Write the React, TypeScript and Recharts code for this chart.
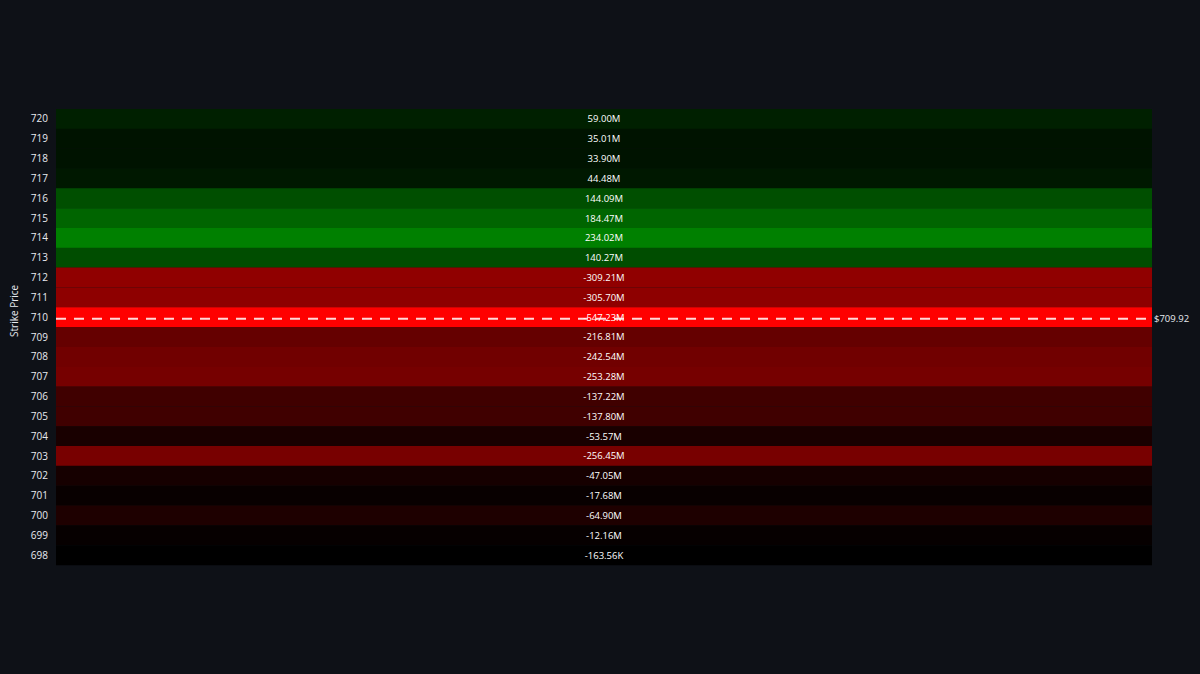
import React from 'react';
import { BarChart, Bar, Cell, XAxis, YAxis, ReferenceLine, LabelList } from 'recharts';

const strikes = [720, 719, 718, 717, 716, 715, 714, 713, 712, 711, 710, 709, 708, 707, 706, 705, 704, 703, 702, 701, 700, 699, 698];
const exposure = [
  59.0e6, 35.01e6, 33.9e6, 44.48e6, 144.09e6, 184.47e6, 234.02e6, 140.27e6, -309.21e6, -305.7e6, -547.23e6,
  -216.81e6, -242.54e6, -253.28e6, -137.22e6, -137.8e6, -53.57e6, -256.45e6, -47.05e6, -17.68e6, -64.9e6,
  -12.16e6, -163.56e3,
];
const labels = [
  '59.00M', '35.01M', '33.90M', '44.48M', '144.09M', '184.47M', '234.02M', '140.27M', '-309.21M', '-305.70M',
  '-547.23M', '-216.81M', '-242.54M', '-253.28M', '-137.22M', '-137.80M', '-53.57M', '-256.45M', '-47.05M',
  '-17.68M', '-64.90M', '-12.16M', '-163.56K',
];
const spotPrice = 709.92;

const data = strikes.map((s, i) => ({ strike: String(s), strikeNum: s, value: exposure[i], label: labels[i], full: 1 }));

const maxPos = Math.max(...exposure);
const maxNeg = Math.max(...exposure.map((v) => -v));

// black -> red for negative, black -> green for positive
const cellColor = (v: number) => {
  if (v >= 0) return `rgb(0,${Math.round((v / maxPos) * 128)},0)`;
  return `rgb(${Math.round((-v / maxNeg) * 255)},0,0)`;
};

const FONT = '"Open Sans", "Noto Sans", sans-serif';

const App = () => {
  return (
    <div style={{ position: 'absolute', left: 0, top: 0, width: 1200, height: 674, background: '#0e1117', fontFamily: FONT }}>
      <BarChart
        width={1200}
        height={674}
        data={data}
        layout="vertical"
        barCategoryGap={0}
        margin={{ top: 109, right: 48, bottom: 109, left: 0 }}
      >
        <XAxis type="number" dataKey="full" domain={[0, 1]} hide />
        <YAxis
          yAxisId="cat"
          type="category"
          dataKey="strike"
          width={56}
          axisLine={false}
          tickLine={false}
          tick={{ fill: '#e8eaf0', fontSize: 10, fontFamily: FONT }}
          tickMargin={2}
          label={{ value: 'Strike Price', angle: -90, position: 'insideLeft', offset: 14, fill: '#e8eaf0', fontSize: 10, fontFamily: FONT }}
        />
        <YAxis
          yAxisId="num"
          type="number"
          dataKey="strikeNum"
          domain={[697.5, 720.5]}
          allowDataOverflow
          reversed
          hide
        />
        <Bar dataKey="full" yAxisId="cat" isAnimationActive={false}>
          {data.map((d, i) => (
            <Cell key={`cell-${i}`} fill={cellColor(d.value)} />
          ))}
          <LabelList dataKey="label" position="center" fill="#ffffff" fontSize={9.5} fontFamily={FONT} />
        </Bar>
        <ReferenceLine
          yAxisId="num"
          y={spotPrice}
          stroke="#ffffff"
          strokeOpacity={0.85}
          strokeWidth={2}
          strokeDasharray="10 8"
          label={{ value: `$${spotPrice.toFixed(2)}`, position: 'right', fill: '#e8eaf0', fontSize: 9.5, fontFamily: FONT, offset: 2 }}
        />
      </BarChart>
    </div>
  );
};

export default App;
